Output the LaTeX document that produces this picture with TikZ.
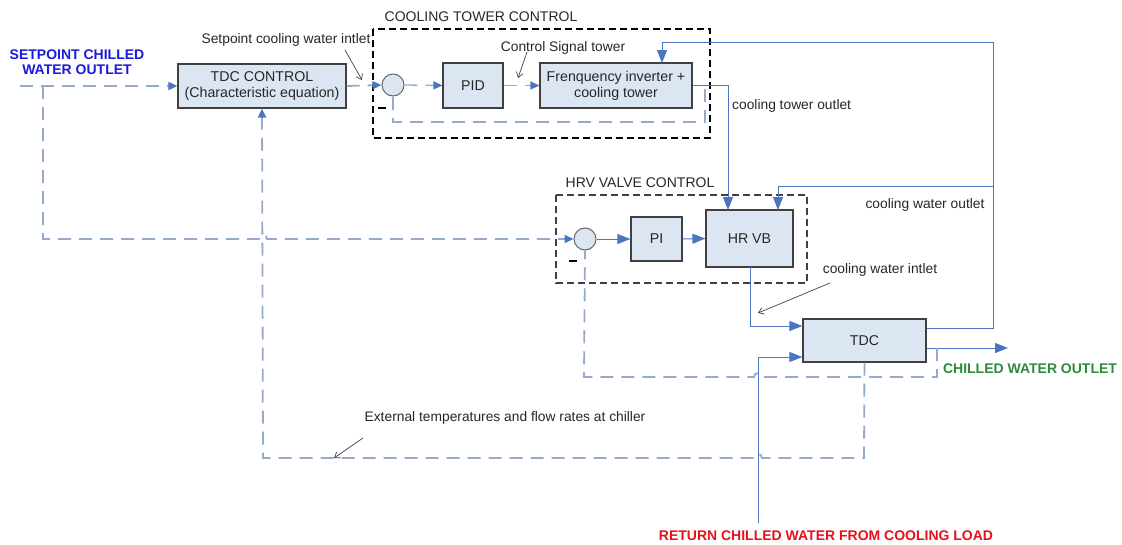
\documentclass[tikz,border=0pt]{standalone}
\usepackage{fontspec}
\setmainfont{Liberation Sans}
\usetikzlibrary{arrows.meta}
\definecolor{boxfill}{HTML}{DCE6F2}
\definecolor{lineblue}{HTML}{4A76C0}
\definecolor{dashblue}{HTML}{96ABCB}
\definecolor{spblue}{HTML}{1A1ADD}
\definecolor{cwgreen}{HTML}{2E8B3A}
\definecolor{retred}{HTML}{E8101A}
\begin{document}
\begin{tikzpicture}[x=1pt,y=-1pt,
 lbl/.style={font=\fontsize{13.8}{15}\selectfont, text=black!85, inner sep=0pt},
 ttl/.style={font=\fontsize{14}{16}\selectfont, text=black!85, inner sep=0pt},
 blk/.style={draw=black!75, fill=boxfill, line width=1.2pt, font=\fontsize{14.2}{16}\selectfont, text=black!85, align=center, inner sep=0pt},
 sumc/.style={circle, draw=black!60, fill=boxfill, line width=1pt, minimum size=22pt, inner sep=0pt},
 sig/.style={draw=lineblue, line width=1pt, -{Triangle[length=13pt,width=10pt]}},
 dsig/.style={draw=dashblue, line width=1.8pt, dash pattern=on 13pt off 8pt},
 dtip/.style={-{Triangle[length=9pt,width=8pt,color=lineblue]}},
 grp/.style={draw=black, line width=2.2pt, dash pattern=on 7pt off 4pt},
 lead/.style={draw=black!75, line width=0.7pt, -{Straight Barb[length=5pt,width=7pt]}},
 bold/.style={font=\bfseries\fontsize{14}{15}\selectfont, inner sep=0pt, align=center},
 minus/.style={draw=black, line width=2.2pt},
]
\useasboundingbox (0,0) rectangle (1122,544);

% group boxes
\draw[grp] (373,29) rectangle (710,138);
\node[ttl] (ctlabel) at (481,17) {COOLING TOWER CONTROL};
\draw[grp, draw=black!75, line width=1.9pt] (556,195) rectangle (807,283);
\node[ttl] (hrvlabel) at (640,183) {HRV VALVE CONTROL};

% blocks
\node[blk, minimum width=168pt, minimum height=44pt] (tdcctl) at (262,86) {TDC CONTROL\\(Characteristic equation)};
\node[sumc] (c1) at (393,85) {};
\node[blk, minimum width=60pt, minimum height=45pt] (pid) at (473,85.5) {PID};
\node[blk, minimum width=152pt, minimum height=45pt] (freq) at (616,85.5) {Frenquency inverter +\\cooling tower};
\node[sumc] (c2) at (585,239) {};
\node[blk, minimum width=51pt, minimum height=44pt] (pi) at (656.5,239) {PI};
\node[blk, minimum width=87pt, minimum height=57pt] (hrvb) at (749.5,238.5) {HR VB};
\node[blk, minimum width=123pt, minimum height=43pt] (tdc) at (864.5,340.5) {TDC};

% texts
\node[bold, text=spblue] (sptxt) at (77,62) {SETPOINT CHILLED\\WATER OUTLET};
\node[bold, text=cwgreen] (cwo) at (1030,369) {CHILLED WATER OUTLET};
\node[bold, text=retred] (ret) at (826,536) {RETURN CHILLED WATER FROM COOLING LOAD};
\node[lbl] (spcw) at (286,40) {Setpoint cooling water intlet};
\node[lbl] (cst) at (563,48) {Control Signal tower};
\node[lbl, anchor=west] (cto) at (732,106) {cooling tower outlet};
\node[lbl] (cwout) at (925,205) {cooling water outlet};
\node[lbl] (cwin) at (880,270) {cooling water intlet};
\node[lbl] (ext) at (505,418) {External temperatures and flow rates at chiller};
\draw[minus] (378,108) -- (386,108);
\draw[minus] (569,261) -- (577,261);

% coordinates
\coordinate (sp) at (20,86);
\coordinate (ret0) at (758,523);

% setpoint chilled water
\draw[dsig, dtip] (sp) -- (tdcctl.west);
\draw[dsig, dtip] (43,86) -- (43,239) -- (259,239) arc[start angle=180, end angle=360, radius=4] -- (c2.west);

% tdc control to cooling tower loop
\draw[dsig, dtip] (tdcctl.east) -- (c1.west);
\draw[dsig, line width=1.3pt, dtip] (c1.east) -- (pid.west);
\draw[dsig, line width=1.3pt, dtip] (pid.east) -- (freq.west);
\draw[dsig] (705,89) -- (705,122) -- (393,122) -- (c1.south);

% cooling tower outlet to HR VB
\draw[sig] (freq.east) -- (728,85.5) -- (728,210);
% cooling water outlet loop
\draw[sig] (tdc.east |- 0,328) -- (993,328) -- (993,42) -- (662,42) -- (662,63);
\draw[sig] (993,186) -- (778,186) -- (778,210);

% HRV loop
\draw[sig] (c2.east) -- (pi.west);
\draw[sig] (pi.east) -- (hrvb.west);
\draw[sig] (750,267) -- (750,326) -- (tdc.west |- 0,326);

% return chilled water
\draw[sig, line width=0.9pt] (ret0) -- (758,357) -- (tdc.west |- 0,357);
% chilled water outlet
\draw[sig] (tdc.east |- 0,348) -- (1008,348);

% inner feedback
\draw[dsig] (937,348) -- (937,377) -- (762,377) arc[start angle=0, end angle=-180, radius=4] -- (584,377) -- (c2.south);
% external feedback
\draw[dsig, dtip] (tdc.south) -- (864,458) -- (762,458) arc[start angle=0, end angle=-180, radius=4] -- (263,458) -- (tdcctl.south);

% leaders
\draw[lead] (345,50) -- (362,80);
\draw[lead] (527,52) -- (518,78);
\draw[lead] (830,283) -- (758,313);
\draw[lead] (363,438) -- (334,458);
\end{tikzpicture}
\end{document}
